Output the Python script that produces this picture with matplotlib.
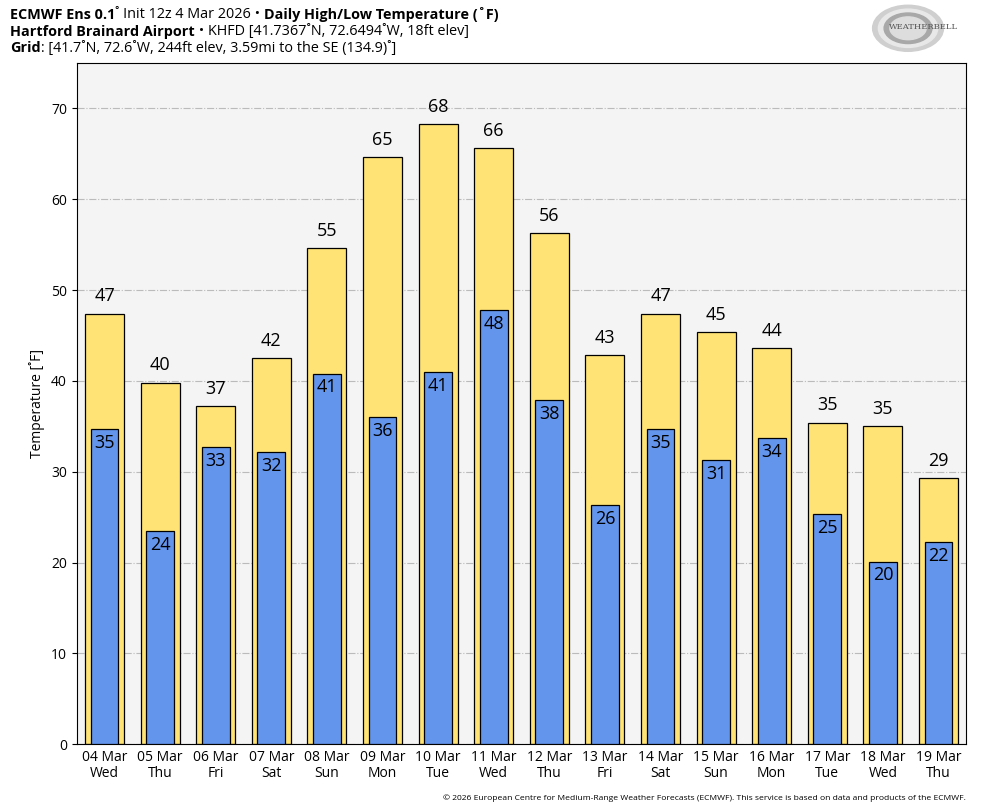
import matplotlib.pyplot as plt
from matplotlib.patches import Ellipse

plt.rcParams['font.family'] = ['Open Sans', 'DejaVu Sans']

dates = ["04 Mar", "05 Mar", "06 Mar", "07 Mar", "08 Mar", "09 Mar", "10 Mar", "11 Mar",
         "12 Mar", "13 Mar", "14 Mar", "15 Mar", "16 Mar", "17 Mar", "18 Mar", "19 Mar"]
days = ["Wed", "Thu", "Fri", "Sat", "Sun", "Mon", "Tue", "Wed",
        "Thu", "Fri", "Sat", "Sun", "Mon", "Tue", "Wed", "Thu"]
highs = [47.4, 39.8, 37.2, 42.5, 54.6, 64.6, 68.3, 65.6,
         56.3, 42.8, 47.4, 45.4, 43.6, 35.4, 35.0, 29.3]
lows = [34.7, 23.5, 32.7, 32.2, 40.8, 36.0, 41.0, 47.8,
        37.9, 26.3, 34.7, 31.3, 33.7, 25.3, 20.1, 22.3]

fig = plt.figure(figsize=(9.84, 8.08), dpi=100)
ax = fig.add_axes([0.078, 0.079, 0.904, 0.843])
ax.set_facecolor('#f4f4f4')

x = range(len(dates))
ax.bar(x, highs, width=0.7, color='#ffe375', edgecolor='black', linewidth=0.9, zorder=2)
ax.bar(x, lows, width=0.5, color='#6495ed', edgecolor='black', linewidth=0.9, zorder=3)

for i in x:
    ax.annotate(str(int(round(highs[i]))), (i, highs[i]), xytext=(0, 6), textcoords='offset points',
                ha='center', va='bottom', fontsize=13, zorder=4)
    ax.annotate(str(int(round(lows[i]))), (i, lows[i]), xytext=(0, -3.5), textcoords='offset points',
                ha='center', va='top', fontsize=13, zorder=4)

ax.set_xlim(-0.5, 15.5)
ax.set_ylim(0, 75)
ax.set_yticks(range(0, 71, 10))
ax.set_xticks(list(x))
ax.set_xticklabels([d + "\n" + w for d, w in zip(dates, days)], fontsize=10, linespacing=1.1)
ax.tick_params(axis='x', length=0, pad=4)
ax.tick_params(axis='y', labelsize=10)
ax.yaxis.grid(True, color='#bbbbbb', linestyle='-.', linewidth=0.8, zorder=0)
ax.set_axisbelow(True)
ax.set_ylabel('Temperature [˚F]', fontsize=10)

# title lines with mixed weights
lines = [
    [("ECMWF Ens 0.1", 'bold'), ("˚ Init 12z 4 Mar 2026 • ", 'normal'), ("Daily High/Low Temperature (˚F)", 'bold')],
    [("Hartford Brainard Airport", 'bold'), (" • KHFD [41.7367˚N, 72.6494˚W, 18ft elev]", 'normal')],
    [("Grid", 'bold'), (": [41.7˚N, 72.6˚W, 244ft elev, 3.59mi to the SE (134.9)˚]", 'normal')],
]
fig.canvas.draw()
r = fig.canvas.get_renderer()
for line, yp in zip(lines, [0.982, 0.961, 0.940]):
    xp = 10 / 984
    for txt, w in line:
        t = fig.text(xp, yp, txt, fontsize=10.4, fontweight=w, ha='left', va='center')
        bb = t.get_window_extent(renderer=r)
        xp += bb.width / 984

# logo
lax = fig.add_axes([0.885, 0.935, 0.09, 0.06])
lax.axis('off')
lax.set_xlim(0, 1)
lax.set_ylim(0, 1)
for k, c in enumerate(['#cfcfcf', '#e8e8e8', '#a8a8a8', '#dddddd']):
    lax.add_patch(Ellipse((0.42, 0.5), 0.8 - k * 0.13, 0.95 - k * 0.16, color=c))
lax.text(0.6, 0.52, "WEATHERBELL", fontsize=6, color='#555555', ha='center', va='center',
         family='DejaVu Serif')

fig.text(0.982, 0.012, "© 2026 European Centre for Medium-Range Weather Forecasts (ECMWF). This service is based on data and products of the ECMWF.",
         fontsize=6.1, ha='right', va='center')

fig.savefig('out.png', dpi=100)
